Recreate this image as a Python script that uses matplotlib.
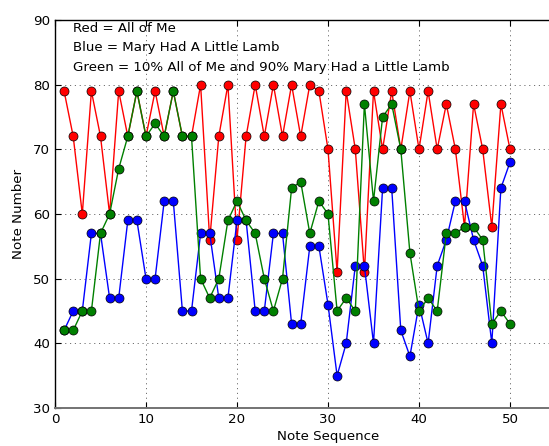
import matplotlib
matplotlib.use("Agg")
import matplotlib.pyplot as plt

note_seq = list(range(1, 51))

all_of_me = [79, 72, 60, 79, 72, 60, 79, 72, 79, 72,
             79, 72, 79, 72, 72, 80, 56, 72, 80, 56,
             72, 80, 72, 80, 72, 80, 72, 80, 79, 70,
             51, 79, 70, 51, 79, 70, 79, 70, 79, 70,
             79, 70, 77, 70, 58, 77, 70, 58, 77, 70]

mary = [42, 45, 45, 57, 57, 47, 47, 59, 59, 50,
        50, 62, 62, 45, 45, 57, 57, 47, 47, 59,
        59, 45, 45, 57, 57, 43, 43, 55, 55, 46,
        35, 40, 52, 52, 40, 64, 64, 42, 38, 46,
        40, 52, 56, 62, 62, 56, 52, 40, 64, 68]

mix = [42, 42, 45, 45, 57, 60, 67, 72, 79, 72,
       74, 72, 79, 72, 72, 50, 47, 50, 59, 62,
       59, 57, 50, 45, 50, 64, 65, 57, 62, 60,
       45, 47, 45, 77, 62, 75, 77, 70, 54, 45,
       47, 45, 57, 57, 58, 58, 56, 43, 45, 43]

legend_lines = ["Red = All of Me",
                "Blue = Mary Had A Little Lamb",
                "Green = 10% All of Me and 90% Mary Had a Little Lamb"]

FS = 9.6
plt.rcParams['font.family'] = ['DejaVu Sans']
fig = plt.figure(figsize=(5.49, 4.46), dpi=100)
ax = fig.add_axes([55 / 549, 38 / 446, (601 - 55) / 549, (408 - 20) / 446])

for ys, c in [(all_of_me, 'r'), (mary, 'b'), (mix, 'g')]:
    ax.plot(note_seq, ys, '-o', color=c, markerfacecolor=c,
            markeredgecolor='k', markeredgewidth=0.5, markersize=6.5, linewidth=1.0)

ax.set_xlim(0, 60)
ax.set_ylim(30, 90)
ax.set_xticks([0, 10, 20, 30, 40, 50])
ax.set_yticks([30, 40, 50, 60, 70, 80, 90])
ax.grid(True, linestyle=(0, (1.4, 4.4)), color='0.35', linewidth=0.6)
ax.tick_params(direction='in', length=4, top=True, right=True, labelsize=FS)
for s in ax.spines.values():
    s.set_linewidth(1.0)
ax.spines['bottom'].set_color('0.45')
ax.spines['bottom'].set_linewidth(1.4)
ax.set_xlabel("Note Sequence", fontsize=FS, labelpad=3)
ax.set_ylabel("Note Number", fontsize=FS, labelpad=6)

for i, t in enumerate(legend_lines):
    fig.text(73 / 549, 1 - (28 + 20 * i) / 446, t, fontsize=FS, va='center', ha='left')

fig.savefig("out.png", dpi=100)
